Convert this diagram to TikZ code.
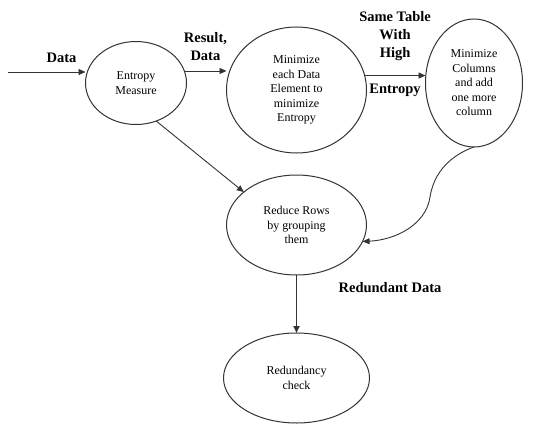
\documentclass[tikz,border=0pt]{standalone}
\usepackage{fontspec}
\setmainfont{Liberation Serif}
\usetikzlibrary{shapes.geometric, arrows.meta, positioning}

\begin{document}
\begin{tikzpicture}[x=1pt, y=-1pt,
  proc/.style={draw=black!80, line width=1pt, ellipse, align=center, inner sep=0pt, outer sep=0pt, font=\fontsize{12}{14.5}\selectfont},
  flow/.style={-{Triangle[length=7pt,width=6pt]}, line width=0.9pt, draw=black!80},
  lbl/.style={font=\bfseries\fontsize{14.5}{18}\selectfont, align=center}]
  \useasboundingbox (0,0) rectangle (535,428);
  \node (ent) [proc, minimum width=101pt, minimum height=83pt] at (136,83) {Entropy\\Measure};
  \node (mde) [proc, minimum width=140pt, minimum height=126pt, right=40pt of ent, yshift=-7pt] {Minimize\\each Data\\Element to\\minimize\\Entropy};
  \node (mc) [proc, minimum width=97pt, minimum height=128pt, right=59pt of mde, yshift=7pt] {Minimize\\Columns\\and add\\one more\\column};
  \node (rr) [proc, minimum width=140pt, minimum height=100pt, below=22pt of mde] {Reduce Rows\\by grouping\\them};
  \node (red) [proc, minimum width=146pt, minimum height=90pt, below=58pt of rr] {Redundancy\\check};
  \coordinate (src) at (8,72);
  \draw[flow, line width=0.6pt] (src) -- (src -| ent.west) node[lbl, pos=0.69, above=6pt] {Data};
  \draw[flow] (ent.14) -- (ent.14 -| mde.west) node[lbl, midway, above=7pt] {Result,\\Data};
  \draw[flow] (mde.12) -- (mde.12 -| mc.west) node[lbl, midway, above=11pt] {Same Table\\With\\High} node[lbl, midway, below=5pt] {Entropy};
  \draw[flow] (ent.-62) -- (rr.148);
  \draw[flow] (mc.south) .. controls (460,152) and (435,165) .. (430,197) .. controls (426,225) and (395,240) .. (rr.-14);
  \draw[flow, line width=1.6pt] (rr) -- (red) node[lbl, pos=0.22, right=38pt] {Redundant Data};
\end{tikzpicture}
\end{document}
